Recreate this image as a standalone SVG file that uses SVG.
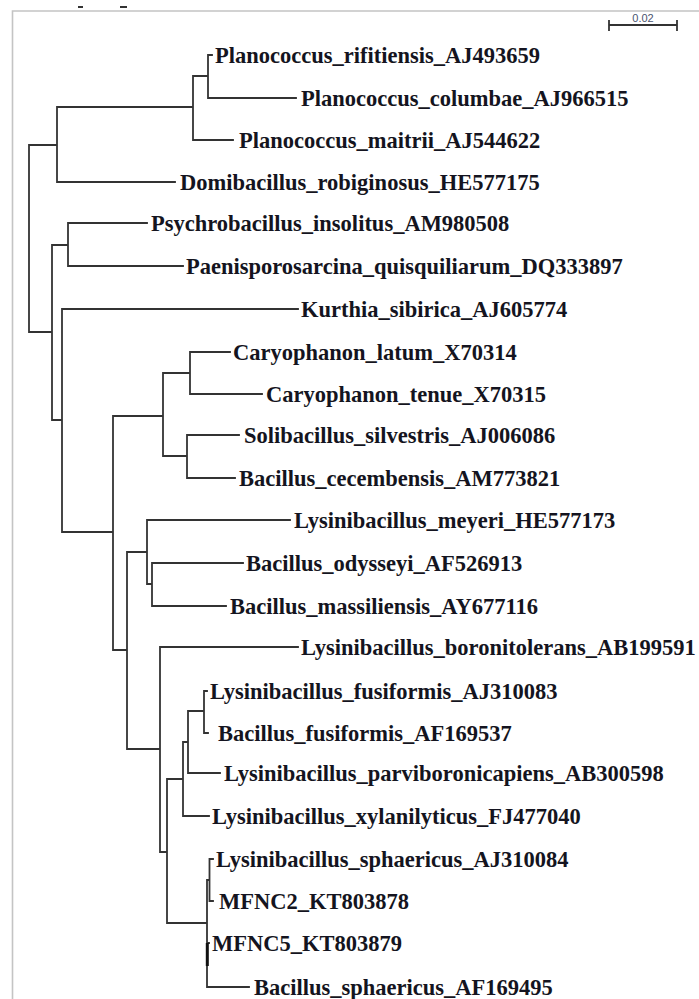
<svg xmlns="http://www.w3.org/2000/svg" width="699" height="999" viewBox="0 0 699 999">
<style>
.frame{fill:none;stroke:#c4c4c4;stroke-width:1.6}
.br{stroke:#333;stroke-width:1.8;fill:none;stroke-linecap:square}
.lb{font-family:"Liberation Serif","Times New Roman",serif;font-weight:bold;font-size:22.5px;fill:#141420}
.sc{font-family:"Liberation Sans",Arial,sans-serif;font-size:11px;fill:#4a5470}
</style>
<rect width="699" height="999" fill="#fff"/>
<path class="frame" d="M12.5,999 V11 H699"/>
<rect x="78" y="6" width="5" height="2" fill="#333"/>
<rect x="120" y="6" width="7" height="2" fill="#333"/>
<g id="scale-bar">
<path class="br" d="M609,25 H677 M609,21 V30 M677,21 V30"/>
<text class="sc" x="643" y="22" text-anchor="middle">0.02</text>
</g>
<g id="connectors">
<path class="br" d="M29,145 V332 M29,145 H57 M29,332 H52
M57,107 V182 M57,107 H193 M57,182 H175
M193,76 V140 M193,76 H208 M193,140 H233
M208,55 V98 M208,55 H212 M208,98 H296
M52,245 V420 M52,245 H68 M68,223 V266 M68,223 H147 M68,266 H183
M52,420 H62 M62,309 V532 M62,309 H298 M62,532 H113
M113,416 V650 M113,416 H163 M163,373 V456 M163,373 H190
M190,352 V394 M190,352 H230 M190,394 H262
M163,456 H187 M187,435 V478 M187,435 H239 M187,478 H235
M113,650 H127 M127,552 V749 M127,552 H147
M147,520 V584 M147,520 H290 M147,584 H152
M152,563 V606 M152,563 H243 M152,606 H226
M127,749 H160 M160,647 V852 M160,647 H298 M160,852 H167
M167,779 V923 M167,779 H183 M183,742 V816 M183,742 H188
M188,711 V773 M188,711 H204 M204,691 V733 M204,691 H207 M204,733 H208
M188,773 H220 M183,816 H209
M167,923 H207 M207,880 V987 M207,880 H209.5
M209.5,859 V901 M209.5,859 H213 M209.5,901 H213
M207,943 H209 M207,987 H249"/>
<rect x="205.8" y="943" width="3" height="23" fill="#111"/>
</g>
<g id="n1"><text class="lb" x="215" y="63">Planococcus_rifitiensis_AJ493659</text></g>
<g id="n2"><text class="lb" x="301" y="106">Planococcus_columbae_AJ966515</text></g>
<g id="n3"><text class="lb" x="239" y="148">Planococcus_maitrii_AJ544622</text></g>
<g id="n4"><text class="lb" x="180" y="190">Domibacillus_robiginosus_HE577175</text></g>
<g id="n5"><text class="lb" x="151" y="231">Psychrobacillus_insolitus_AM980508</text></g>
<g id="n6"><text class="lb" x="186" y="274">Paenisporosarcina_quisquiliarum_DQ333897</text></g>
<g id="n7"><text class="lb" x="301" y="317">Kurthia_sibirica_AJ605774</text></g>
<g id="n8"><text class="lb" x="233" y="360">Caryophanon_latum_X70314</text></g>
<g id="n9"><text class="lb" x="266" y="402">Caryophanon_tenue_X70315</text></g>
<g id="n10"><text class="lb" x="244" y="443">Solibacillus_silvestris_AJ006086</text></g>
<g id="n11"><text class="lb" x="239" y="486">Bacillus_cecembensis_AM773821</text></g>
<g id="n12"><text class="lb" x="294" y="528">Lysinibacillus_meyeri_HE577173</text></g>
<g id="n13"><text class="lb" x="246" y="571">Bacillus_odysseyi_AF526913</text></g>
<g id="n14"><text class="lb" x="230" y="614">Bacillus_massiliensis_AY677116</text></g>
<g id="n15"><text class="lb" x="301" y="655">Lysinibacillus_boronitolerans_AB199591</text></g>
<g id="n16"><text class="lb" x="210" y="699">Lysinibacillus_fusiformis_AJ310083</text></g>
<g id="n17"><text class="lb" x="218" y="741">Bacillus_fusiformis_AF169537</text></g>
<g id="n18"><text class="lb" x="224" y="781">Lysinibacillus_parviboronicapiens_AB300598</text></g>
<g id="n19"><text class="lb" x="212" y="824">Lysinibacillus_xylanilyticus_FJ477040</text></g>
<g id="n20"><text class="lb" x="216" y="867">Lysinibacillus_sphaericus_AJ310084</text></g>
<g id="n21"><text class="lb" x="219" y="909">MFNC2_KT803878</text></g>
<g id="n22"><text class="lb" x="212" y="951">MFNC5_KT803879</text></g>
<g id="n23"><text class="lb" x="254" y="995">Bacillus_sphaericus_AF169495</text></g>
</svg>
